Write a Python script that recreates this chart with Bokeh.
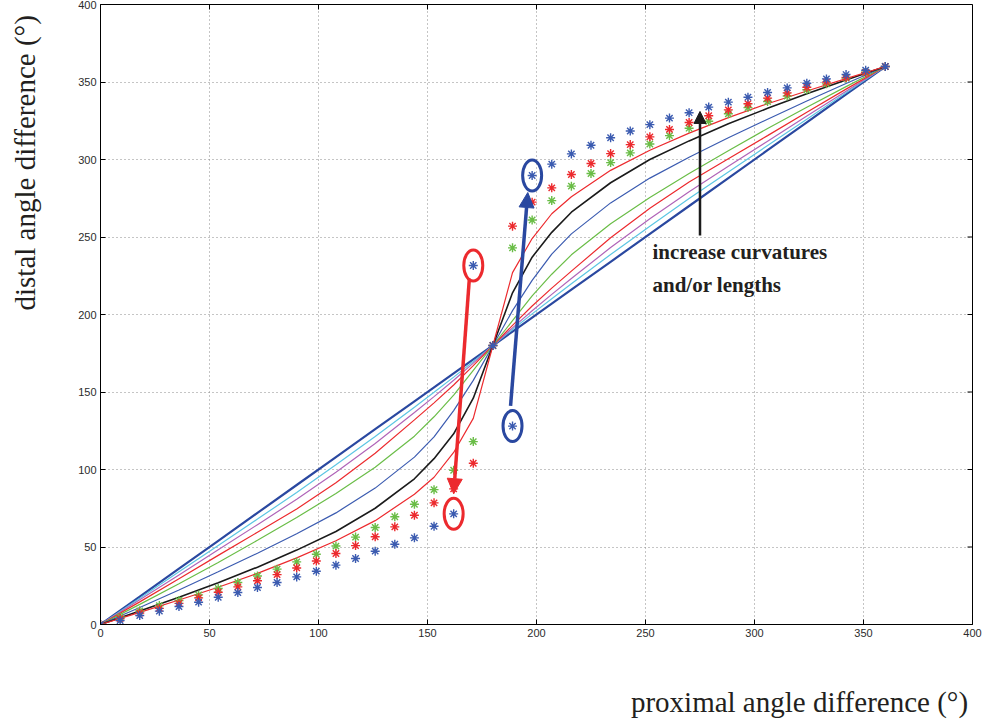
from math import pi

from bokeh.core.properties import value
from bokeh.embed import file_html
from bokeh.layouts import column, row
from bokeh.models import Arrow, FixedTicker, Label, NormalHead, Range1d
from bokeh.plotting import figure
from bokeh.resources import INLINE

# ---- data -------------------------------------------------------------
TICKS = [0, 50, 100, 150, 200, 250, 300, 350, 400]

# proximal angle samples for the model curves
LINE_X = [0, 18, 36, 54, 72, 90, 108, 126, 144, 153, 162, 171, 180,
          189, 198, 207, 216, 234, 252, 270, 288, 306, 324, 342, 360]

# distal angle for increasing curvature / length (straight line first)
LINE_STRAIGHT = [0, 18, 36, 54, 72, 90, 108, 126, 144, 153, 162, 171, 180,
                 189, 198, 207, 216, 234, 252, 270, 288, 306, 324, 342, 360]
LINE_CYAN = [0, 17, 34, 51, 68, 85.2, 103, 121.3, 140.2, 149.8, 159.6, 169.7, 180,
             190.3, 200.4, 210.2, 219.8, 238.7, 257, 274.8, 292, 309, 326, 343, 360]
LINE_MAGENTA = [0, 16, 32, 48.2, 64.4, 80.8, 98.2, 116.8, 136.8, 147, 157.6, 168.6, 180,
                191.4, 202.4, 213, 223.2, 243.2, 261.8, 279.2, 295.6, 311.8, 328, 344, 360]
LINE_RED = [0, 14.6, 29.5, 44.6, 59.5, 74.5, 91.5, 110.5, 132, 143, 154.5, 167, 180,
            193, 205.5, 217, 228, 249.5, 268.5, 285.5, 300.5, 315.4, 330.5, 345.4, 360]
LINE_GREEN = [0, 13, 26.3, 40, 54.3, 69, 84.5, 101.5, 121.5, 134, 148, 164, 180,
              196, 212, 226, 238.5, 258.5, 275.5, 291, 305.7, 320, 333.7, 347, 360]
LINE_BLUE = [0, 11, 22.3, 34, 46, 58.5, 72, 88, 108, 121, 138, 157.5, 180,
             202.5, 222, 239, 252, 272, 288, 301.5, 314, 326, 337.7, 349, 360]
LINE_BLACK = [0, 8.7, 17.6, 27, 37, 48, 60, 75, 94, 107, 123, 146, 180,
              214, 237, 253, 266, 285, 300, 312, 323, 333, 342.4, 351.3, 360]
LINE_RED2 = [0, 7.8, 15.8, 24, 33, 43, 54, 67, 84, 95, 111, 133, 180,
             227, 249, 265, 276, 293, 306, 317, 327, 336, 344.2, 352.2, 360]

# sampled points (asterisks)
STAR_X = [0, 9, 18, 27, 36, 45, 54, 63, 72, 81, 90, 99, 108, 117, 126, 135, 144, 153,
          162, 171, 180, 189, 198, 207, 216, 225, 234, 243, 252, 261, 270, 279, 288,
          297, 306, 315, 324, 333, 342, 351, 360]
STAR_BLUE = [0, 2.6, 5.8, 8.6, 11.6, 14.4, 17.6, 20.6, 23.9, 27.1, 30.7, 34.4, 38.3,
             42.6, 47.3, 51.8, 55.9, 63.4, 71.4, 231.6, 180, 128, 289.7, 297, 303.6,
             309.2, 314, 318.4, 322.5, 326.7, 330.2, 333.8, 337, 340.2, 343.2, 346.2,
             349.2, 352, 354.8, 357.6, 360]
STAR_RED = [0, 3.8, 7.4, 10.4, 13.6, 17.2, 20.8, 24.3, 28.2, 32.2, 36.5, 41, 45.8,
            50.9, 56.6, 63, 70.5, 78.5, 87.5, 104, 180, 257, 272.5, 281.7, 290.3,
            297.4, 303.8, 309.6, 314.6, 319.4, 323.9, 328.2, 332, 336, 339.6, 343,
            346.6, 349.9, 352.9, 356.2, 360]
STAR_GREEN = [0, 4.8, 8.8, 12.2, 15.5, 19.1, 23.2, 27.1, 31.3, 35.7, 40.4, 45.3, 50.6,
              56.4, 62.6, 69.5, 77.6, 87, 99.5, 118, 180, 243, 261, 273.5, 282.8, 291,
              298, 304.3, 310, 315.4, 320.2, 324.7, 329.5, 333.5, 337.4, 341, 345,
              348.8, 352.5, 356.3, 360]

X_TITLE = "proximal angle difference (°)"
Y_TITLE = "distal angle difference (°)"

# ---- colours ----------------------------------------------------------
C_DARKBLUE = "#2A48A0"
C_CYAN = "#5CC6E3"
C_MAGENTA = "#B064B8"
C_RED = "#EC2A2E"
C_GREEN = "#6ABD47"
C_BLUE = "#3B5BB0"
C_BLACK = "#1B1B1B"
C_TEXT = "#231F20"

# ---- main plot --------------------------------------------------------
p = figure(
    width=934, height=650,
    frame_width=872, frame_height=620,
    x_range=Range1d(0, 400), y_range=Range1d(0, 400),
    output_backend="svg", toolbar_location=None,
    min_border_left=50, min_border_right=12,
    min_border_top=4, min_border_bottom=26,
    background_fill_color="white", border_fill_color="white",
)
p.outline_line_color = "black"
p.outline_line_width = 1

for ax in (p.xaxis[0], p.yaxis[0]):
    ax.ticker = FixedTicker(ticks=TICKS)
    ax.major_tick_in = 5
    ax.major_tick_out = 0
    ax.minor_tick_line_color = None
    ax.axis_line_color = "black"
    ax.major_tick_line_color = "black"
    ax.major_label_text_font = "Liberation Sans"
    ax.major_label_text_font_size = "11px"
    ax.major_label_text_color = "#2b2b2b"
p.xaxis.major_label_standoff = 4
p.yaxis.major_label_standoff = 4

p.grid.ticker = FixedTicker(ticks=TICKS)
p.grid.grid_line_color = "#8a8a8a"
p.grid.grid_line_dash = "1 3"
p.grid.grid_line_width = 1

# inward tick marks along the top and right sides of the box
p.ray(x=TICKS, y=[400] * len(TICKS), length=5, length_units="screen",
      angle=-pi / 2, line_color="black", line_width=1)
p.ray(x=[400] * len(TICKS), y=TICKS, length=5, length_units="screen",
      angle=pi, line_color="black", line_width=1)

# ---- curves -----------------------------------------------------------
p.line(LINE_X, LINE_STRAIGHT, line_color=C_DARKBLUE, line_width=2.2)
p.line(LINE_X, LINE_CYAN, line_color=C_CYAN, line_width=1.2)
p.line(LINE_X, LINE_MAGENTA, line_color=C_MAGENTA, line_width=1.2)
p.line(LINE_X, LINE_RED, line_color=C_RED, line_width=1.2)
p.line(LINE_X, LINE_GREEN, line_color=C_GREEN, line_width=1.2)
p.line(LINE_X, LINE_BLUE, line_color=C_BLUE, line_width=1.2)
p.line(LINE_X, LINE_BLACK, line_color=C_BLACK, line_width=1.6)
p.line(LINE_X, LINE_RED2, line_color=C_RED, line_width=1.2)

# ---- sampled points ---------------------------------------------------
p.scatter(STAR_X, STAR_GREEN, marker="asterisk", size=9, line_color=C_GREEN, line_width=1.4)
p.scatter(STAR_X, STAR_RED, marker="asterisk", size=9, line_color=C_RED, line_width=1.4)
p.scatter(STAR_X, STAR_BLUE, marker="asterisk", size=9, line_color=C_BLUE, line_width=1.4)

# ---- highlighted points and arrows ------------------------------------
i_lo, i_hi = 18, 19      # red pair (162 / 171)
j_lo, j_hi = 21, 22      # blue pair (189 / 198)

p.ellipse(x=[STAR_X[i_hi], STAR_X[i_lo]], y=[STAR_BLUE[i_hi], STAR_BLUE[i_lo]],
          width=19, height=31, width_units="screen", height_units="screen",
          fill_color=None, line_color=C_RED, line_width=3)
p.ellipse(x=[STAR_X[j_lo], STAR_X[j_hi]], y=[STAR_BLUE[j_lo], STAR_BLUE[j_hi]],
          width=19, height=31, width_units="screen", height_units="screen",
          fill_color=None, line_color=C_DARKBLUE, line_width=3)

p.add_layout(Arrow(
    end=NormalHead(size=15, fill_color=C_RED, line_color=C_RED),
    x_start=STAR_X[i_hi] - 1.8, y_start=STAR_BLUE[i_hi] - 8.5,
    x_end=STAR_X[i_lo], y_end=STAR_BLUE[i_lo] + 13,
    line_color=C_RED, line_width=3.5))
p.add_layout(Arrow(
    end=NormalHead(size=15, fill_color=C_DARKBLUE, line_color=C_DARKBLUE),
    x_start=STAR_X[j_lo] - 0.9, y_start=STAR_BLUE[j_lo] + 13,
    x_end=STAR_X[j_hi] - 2, y_end=STAR_BLUE[j_hi] - 11,
    line_color=C_DARKBLUE, line_width=3.5))

# trend arrow with its note
p.add_layout(Arrow(
    end=NormalHead(size=12, fill_color=C_BLACK, line_color=C_BLACK),
    x_start=275, y_start=251, x_end=275, y_end=331,
    line_color=C_BLACK, line_width=2.5))
for txt, yy in (("increase curvatures", 240.5), ("and/or lengths", 219)):
    p.add_layout(Label(x=253.2, y=yy, text=txt, text_font="Liberation Serif",
                       text_font_style="bold", text_font_size="21px",
                       text_color=C_TEXT, text_baseline="alphabetic"))


# ---- axis titles (thin strips beside / below the plot) -------------------
def title_strip(w, h):
    f = figure(width=w, height=h, x_range=Range1d(0, w), y_range=Range1d(0, h),
               output_backend="svg", toolbar_location=None,
               x_axis_type=None, y_axis_type=None, min_border=0,
               background_fill_color="white", border_fill_color="white")
    f.outline_line_color = None
    f.grid.visible = False
    return f


y_strip = title_strip(50, 650)
y_strip.text(x=[24], y=[484], text=[Y_TITLE], angle=pi / 2,
             text_font=value("Liberation Serif"), text_font_size="29px",
             text_color=C_TEXT, text_align="center", text_baseline="middle")

x_strip = title_strip(984, 71)
x_strip.text(x=[799], y=[20], text=[X_TITLE],
             text_font=value("Liberation Serif"), text_font_size="29px",
             text_color=C_TEXT, text_align="center", text_baseline="middle")

layout = column(row(y_strip, p, spacing=0), x_strip, spacing=0)

open("out.html", "w").write(file_html(layout, INLINE))
